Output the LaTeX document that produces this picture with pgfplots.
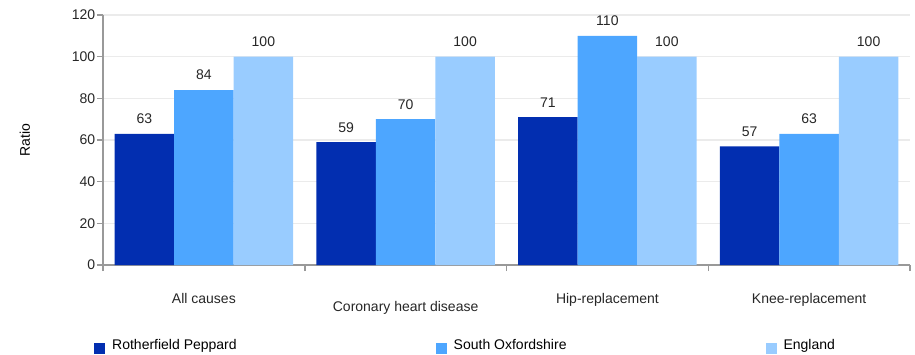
\documentclass[border=0pt]{standalone}
\usepackage{pgfplots}
\pgfplotsset{compat=1.18}
\usepackage{fontspec}
\setmainfont{Liberation Sans}

\definecolor{cDark}{HTML}{022EB0}
\definecolor{cMid}{HTML}{4DA6FF}
\definecolor{cLight}{HTML}{99CCFF}
\definecolor{axgray}{HTML}{999999}
\definecolor{gridgray}{HTML}{EBEBEB}

\begin{document}
\fontsize{14}{16}\selectfont
\begin{tikzpicture}
\useasboundingbox (-103pt,-89pt) rectangle (812pt,265pt);
\begin{axis}[
    at={(0,0)}, anchor=south west,
    scale only axis, width=807pt, height=250pt,
    ybar=0pt, bar width=59.5pt,
    xmin=-0.5, xmax=3.5,
    ymin=0, ymax=120,
    ytick={0,20,40,60,80,100,120},
    xtick={0,1,2,3},
    xticklabels={All causes,\raisebox{-8pt}[\height][0pt]{Coronary heart disease},Hip-replacement,Knee-replacement},
    minor xtick={-0.5,0.5,1.5,2.5,3.5},
    major x tick style={draw=none},
    axis lines*=left,
    axis line style={axgray, line width=1.5pt},
    tick align=outside,
    tick style={axgray, line width=1.5pt},
    major tick length=6pt, minor tick length=6pt,
    ymajorgrids=true,
    grid style={gridgray, line width=1.5pt},
    xticklabel style={yshift=-17pt},
    yticklabel style={xshift=3pt},
    ticklabel style={font=\fontsize{14}{16}\selectfont, text=black!85},
    /pgf/number format/assume math mode=true,
    ylabel={Ratio},
    ylabel style={at={(axis description cs:-0.0967,0.5)}, anchor=center, font=\fontsize{14}{16}\selectfont},
    nodes near coords,
    every node near coord/.append style={yshift=5pt, font=\fontsize{14}{16}\selectfont, text=black!85},
    legend columns=3,
    legend style={draw=none, fill=none, at={(axis description cs:0,0)}, anchor=north west,
        xshift=-12pt, yshift=-70pt, font=\fontsize{14}{16}\selectfont,
        /tikz/every odd column/.append style={column sep=5pt},
        /tikz/every even column/.append style={column sep=197pt}},
    legend image code/.code={\fill[#1] (0pt,-9pt) rectangle (11pt,2pt);},
]
\addplot[fill=cDark, draw=none] coordinates {(0,63) (1,59) (2,71) (3,57)};
\addplot[fill=cMid, draw=none] coordinates {(0,84) (1,70) (2,110) (3,63)};
\addplot[fill=cLight, draw=none] coordinates {(0,100) (1,100) (2,100) (3,100)};
\legend{Rotherfield Peppard, South Oxfordshire, England}
\end{axis}
\end{tikzpicture}
\end{document}
